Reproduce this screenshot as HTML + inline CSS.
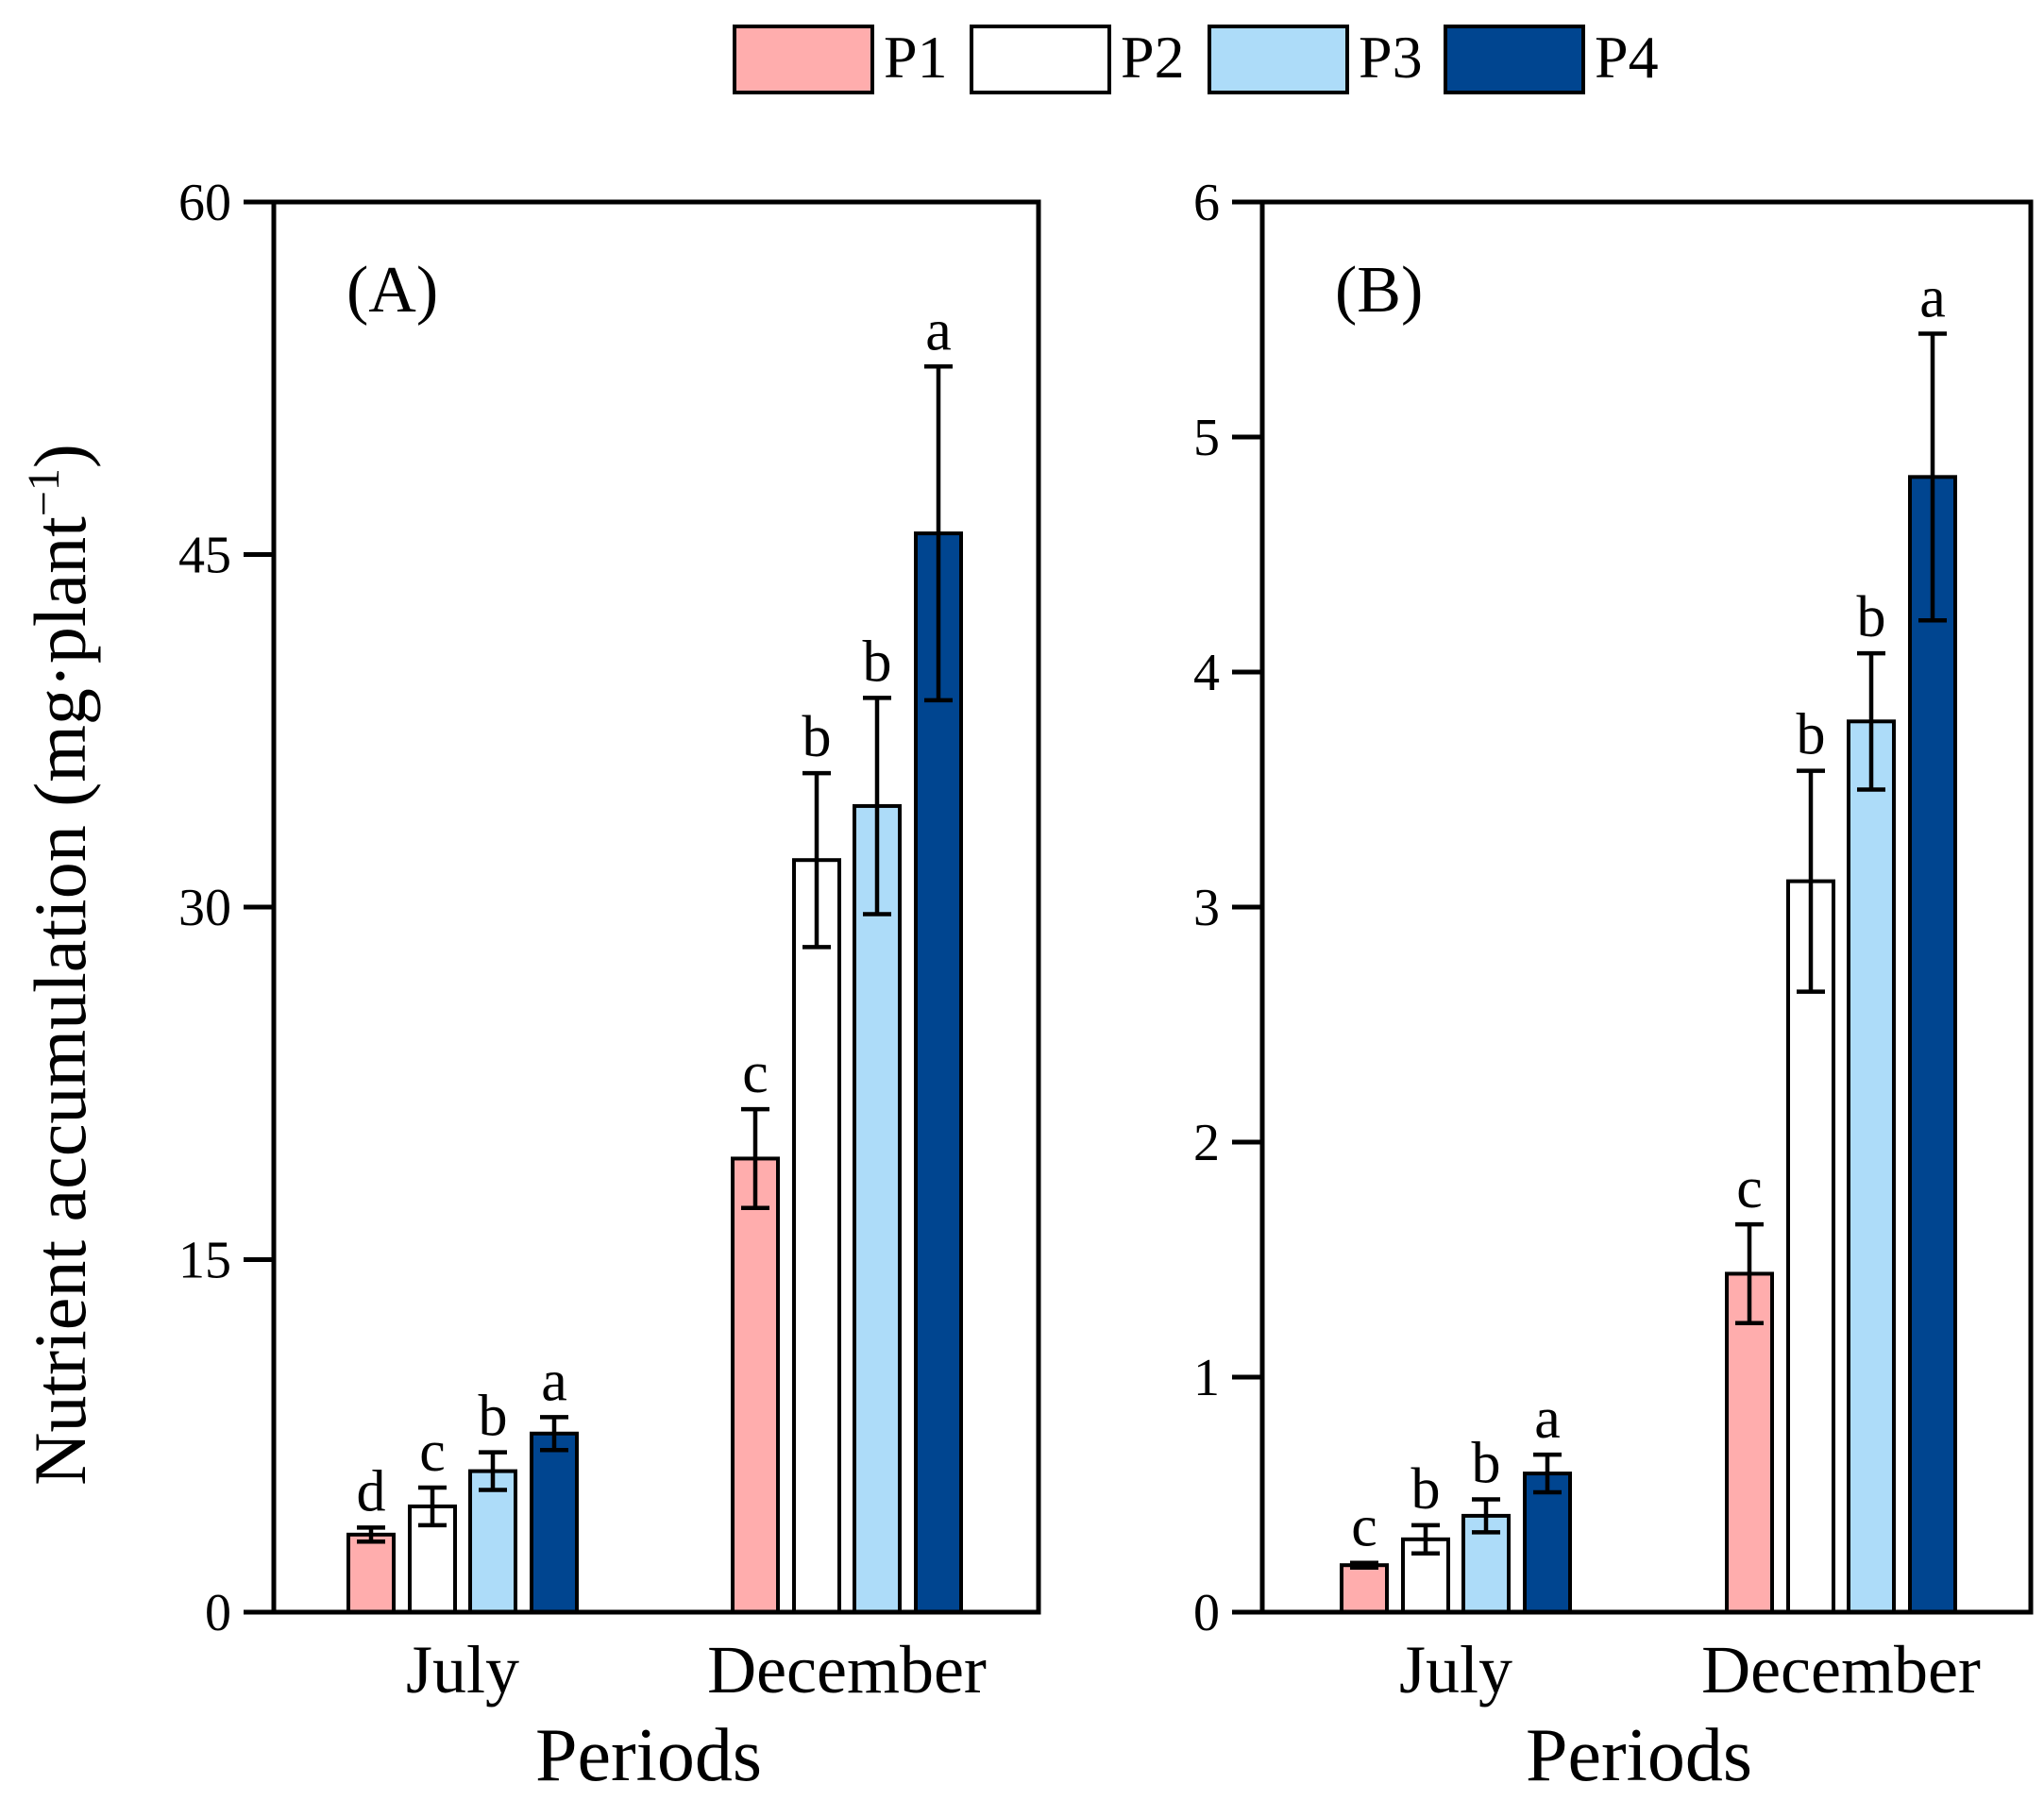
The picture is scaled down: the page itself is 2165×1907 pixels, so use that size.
<!DOCTYPE html>
<html><head><meta charset="utf-8"><style>
body{margin:0;background:#fff}
svg{display:block;font-family:"Liberation Serif",serif}
</style></head><body>
<svg id="c" width="2165" height="1907" viewBox="0 0 2165 1907">
<g id="legend"></g>
<g id="pa"></g>
<g id="pb"></g>
<text x="90" y="1022" font-size="78" text-anchor="middle" transform="rotate(-90 90 1022)">Nutrient accumulation (mg·plant<tspan dy="-28" font-size="48">−1</tspan><tspan dy="28">)</tspan></text>
</svg>
<script>
const series=["P1","P2","P3","P4"];
const colors=["#ffadad","#ffffff","#addcf9","#004590"];
const periods=["July","December"];
const aVals=[[3.3,4.5,6.0,7.6],[19.3,32.0,34.3,45.9]];
const aErr=[[0.3,0.8,0.8,0.7],[2.1,3.7,4.6,7.1]];
const aLet=[["d","c","b","a"],["c","b","b","a"]];
const aTicks=[0,15,30,45,60];
const bVals=[[0.20,0.31,0.41,0.59],[1.44,3.11,3.79,4.83]];
const bErr=[[0.01,0.06,0.07,0.08],[0.21,0.47,0.29,0.61]];
const bLet=[["c","b","b","a"],["c","b","b","a"]];
const bTicks=[0,1,2,3,4,5,6];
const NS="http://www.w3.org/2000/svg";
function mk(p,t,a,txt){const e=document.createElementNS(NS,t);for(const k in a)e.setAttribute(k,a[k]);if(txt!==undefined)e.textContent=txt;p.appendChild(e);return e;}
const lg=document.getElementById('legend');
const lx=[778,1029,1281,1531];
series.forEach((s,i)=>{
 const r=mk(lg,'rect',{x:lx[i],y:28,width:146,height:70,fill:colors[i],stroke:'#000','stroke-width':4});
 
 
 const t=mk(lg,'text',{x:lx[i]+158,y:82,'font-size':64},s);
 
 
});
function panel(g,L,R,max,vals,errs,lets,ticks,label,groupX){
 const T=214,B=1708;
 const y=v=>B-(v/max)*(B-T);
 const bw=48;
 const off=[-97,-32,32,97];
 vals.forEach((grp,gi)=>{
  grp.forEach((v,i)=>{
   const cx=groupX[gi]+off[i];
   const r=mk(g,'rect',{x:cx-bw/2,y:y(v),width:bw,height:B-y(v),fill:colors[i],stroke:'#000','stroke-width':4});
   
   
   const e=errs[gi][i],yt=y(v+e),yb=y(v-e);
   const eb=mk(g,'path',{d:`M${cx} ${yt}V${yb}M${cx-15} ${yt}H${cx+15}M${cx-15} ${yb}H${cx+15}`,stroke:'#000','stroke-width':4.5,fill:'none'});
   
   
   const lt=mk(g,'text',{x:cx,y:yt-18,'font-size':62,'text-anchor':'middle'},lets[gi][i]);
   
   
  });
  const pl=mk(g,'text',{x:groupX[gi],y:1793,'font-size':72,'text-anchor':'middle'},periods[gi]);
  
  
 });
 const fr=mk(g,'rect',{x:L,y:T,width:R-L,height:B-T,fill:'none',stroke:'#000','stroke-width':5});
 
 
 ticks.forEach(t=>{
  const tk=mk(g,'line',{x1:L-32,x2:L,y1:y(t),y2:y(t),stroke:'#000','stroke-width':5});
  
  
  const tl=mk(g,'text',{x:L-45,y:y(t)+19,'font-size':56,'text-anchor':'end'},t);
  
  
 });
 const pl=mk(g,'text',{x:L+77,y:330,'font-size':70},label);
 
 
 const xt=mk(g,'text',{x:(L+R)/2-8,y:1886,'font-size':80,'text-anchor':'middle'},'Periods');
 
 
}
panel(document.getElementById('pa'),290,1100,60,aVals,aErr,aLet,aTicks,'(A)',[490,897]);
panel(document.getElementById('pb'),1337,2151,6,bVals,bErr,bLet,bTicks,'(B)',[1542,1950]);
</script>
</body></html>
